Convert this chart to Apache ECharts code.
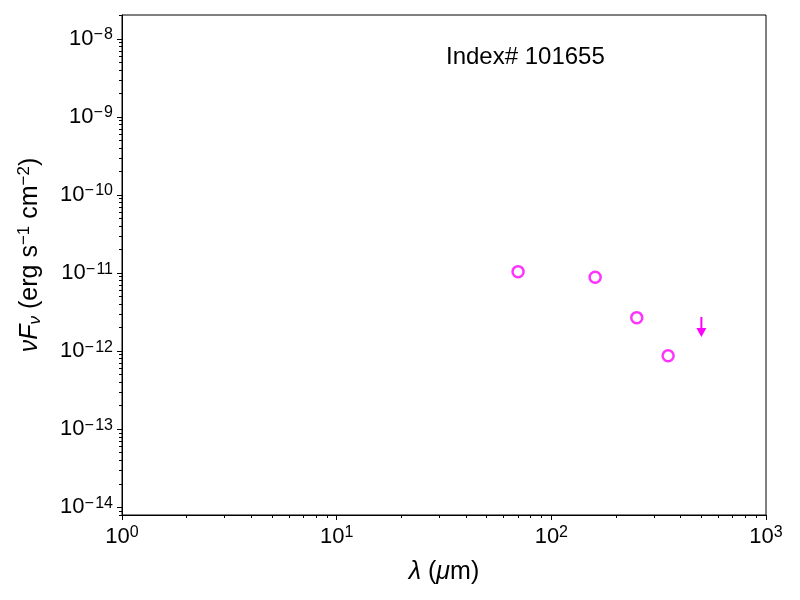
<!DOCTYPE html>
<html>
<head>
<meta charset="utf-8">
<script src="https://cdn.jsdelivr.net/npm/echarts@6.0.0/dist/echarts.min.js"></script>
<style>
  html, body { margin: 0; padding: 0; background: #fff; }
  #main { width: 800px; height: 600px; }
</style>
</head>
<body>
<div id="main"></div>
<script>
// wavelength (um) and nuFnu (erg s^-1 cm^-2)
var detWave = [70, 160, 250, 350];
var detFlux = [1.045e-11, 8.85e-12, 2.69e-12, 8.75e-13];
var limWave = [500];
var limFlux = [2.74e-12];

var xTicks = [1, 10, 100, 1000];
var yTicks = [1e-14, 1e-13, 1e-12, 1e-11, 1e-10, 1e-9, 1e-8];

var xMin = 1, xMax = 1000;
var yMin = 7.96e-15, yMax = 2.03e-8;
var titleText = 'Index# 101655';

var FONT = 'Liberation Sans, Arial, Helvetica, sans-serif';

// minor ticks at 2..9 x 10^n
function minorTicks(lo, hi) {
	var out = [];
	for (var d = Math.floor(Math.log10(lo)) - 1; d <= Math.ceil(Math.log10(hi)); d++) {
		for (var m = 2; m <= 9; m++) {
			var v = m * Math.pow(10, d);
			if (v >= lo && v <= hi) out.push(v);
		}
	}
	return out;
}

function powLabel(value) {
	var e = Math.round(Math.log10(value));
	var s = e < 0 ? '\u2212\u200a' + (-e) : '' + e;
	return '{b|10}{s|' + s + '}';
}

var tickRich = {
	b: { fontSize: 22, lineHeight: 24, fontFamily: FONT, color: '#000' },
	s: { fontSize: 16, lineHeight: 16, verticalAlign: 'top', fontFamily: FONT, color: '#000' }
};

var detData = [];
for (var i = 0; i < detWave.length; i++) detData.push([detWave[i], detFlux[i]]);
var limData = [];
for (var j = 0; j < limWave.length; j++) limData.push([limWave[j], limFlux[j]]);

var myChart = echarts.init(document.getElementById('main'));

var option = {
	animation: false,
	backgroundColor: '#fff',
	title: {
		text: titleText,
		left: 446,
		top: 45,
		padding: 0,
		textStyle: { fontSize: 24, fontWeight: 'normal', color: '#000', fontFamily: FONT }
	},
	grid: {
		left: 122, right: 34, top: 15, bottom: 85,
		show: true, borderColor: '#000', borderWidth: 1,
		containLabel: false, outerBoundsMode: 'none'
	},
	xAxis: [{
		type: 'log', logBase: 10, min: xMin, max: xMax,
		name: '{i|\u03bb} ({i|\u03bc}m)',
		nameLocation: 'middle', nameGap: 45,
		nameTextStyle: {
			fontSize: 25, color: '#000', fontFamily: FONT,
			rich: { i: { fontSize: 25, fontStyle: 'italic', fontFamily: FONT, color: '#000' } }
		},
		axisLine: { show: true, lineStyle: { color: '#000', width: 1 } },
		axisTick: { show: true, inside: false, length: 5, customValues: xTicks, lineStyle: { color: '#000', width: 1 } },
		axisLabel: { show: true, margin: 10, customValues: xTicks, formatter: powLabel, rich: tickRich },
		splitLine: { show: false },
		minorTick: { show: false }
	}, {
		type: 'log', logBase: 10, min: xMin, max: xMax, gridIndex: 0, position: 'bottom',
		axisLine: { show: false },
		axisTick: { show: true, inside: false, length: 3, customValues: minorTicks(xMin, xMax), lineStyle: { color: '#000', width: 1 } },
		axisLabel: { show: false },
		splitLine: { show: false }
	}],
	yAxis: [{
		type: 'log', logBase: 10, min: yMin, max: yMax,
		name: '{i|\u03bdF}{sub|\u03bd} (erg s{sup|\u22121} cm{sup|\u22122})',
		nameLocation: 'middle', nameGap: 78, nameRotate: 90,
		nameTextStyle: {
			fontSize: 25, lineHeight: 28, color: '#000', fontFamily: FONT,
			padding: [0, 0, 0, 20],
			rich: {
				i: { fontSize: 25, lineHeight: 28, fontStyle: 'italic', fontFamily: FONT, color: '#000' },
				sub: { fontSize: 17, lineHeight: 17, verticalAlign: 'bottom', fontStyle: 'italic', fontFamily: FONT, color: '#000' },
				sup: { fontSize: 17, lineHeight: 17, verticalAlign: 'top', fontFamily: FONT, color: '#000' }
			}
		},
		axisLine: { show: true, lineStyle: { color: '#000', width: 1 } },
		axisTick: { show: true, inside: false, length: 5, customValues: yTicks, lineStyle: { color: '#000', width: 1 } },
		axisLabel: { show: true, margin: 9, customValues: yTicks, formatter: powLabel, rich: tickRich },
		splitLine: { show: false },
		minorTick: { show: false }
	}, {
		type: 'log', logBase: 10, min: yMin, max: yMax, gridIndex: 0, position: 'left',
		axisLine: { show: false },
		axisTick: { show: true, inside: false, length: 3, customValues: minorTicks(yMin, yMax), lineStyle: { color: '#000', width: 1 } },
		axisLabel: { show: false },
		splitLine: { show: false }
	}],
	series: [{
		name: 'detections',
		type: 'scatter',
		xAxisIndex: 0, yAxisIndex: 0,
		data: detData,
		symbol: 'circle',
		symbolSize: 11,
		itemStyle: { color: 'rgba(0,0,0,0)', borderColor: '#ff00ff', borderWidth: 2.5 }
	}, {
		name: 'upper limits',
		type: 'custom',
		xAxisIndex: 0, yAxisIndex: 0,
		data: limData,
		renderItem: function (params, api) {
			var p = api.coord([api.value(0), api.value(1)]);
			return {
				type: 'group',
				children: [{
					type: 'line',
					shape: { x1: p[0], y1: p[1], x2: p[0], y2: p[1] + 14 },
					style: { stroke: '#ff00ff', lineWidth: 2 }
				}, {
					type: 'polygon',
					shape: { points: [[p[0] - 5, p[1] + 11], [p[0] + 5, p[1] + 11], [p[0], p[1] + 20]] },
					style: { fill: '#ff00ff' }
				}]
			};
		}
	}]
};

myChart.setOption(option);
</script>
</body>
</html>
